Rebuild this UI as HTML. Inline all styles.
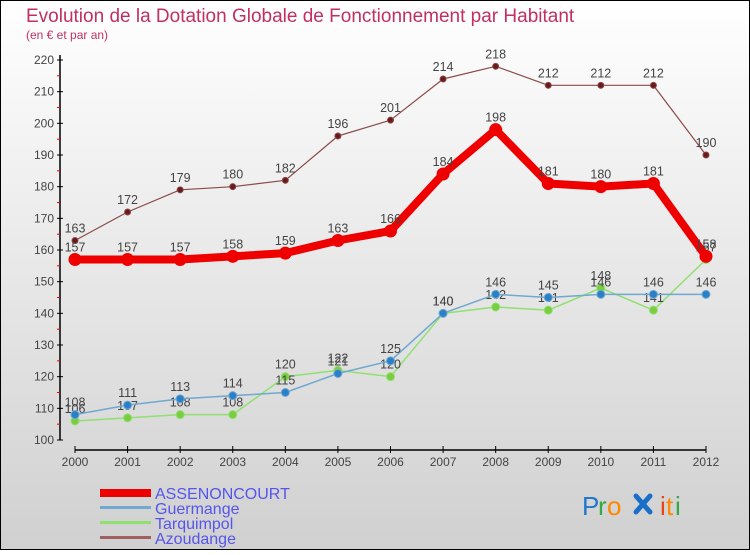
<!DOCTYPE html>
<html><head><meta charset="utf-8"><style>
html,body{margin:0;padding:0}
body{width:750px;height:550px;overflow:hidden;font-family:"Liberation Sans",sans-serif}
</style></head><body>
<svg id="chart" width="750" height="550" xmlns="http://www.w3.org/2000/svg" font-family="Liberation Sans, sans-serif">
<defs><linearGradient id="bg" x1="0" y1="0" x2="0" y2="1"><stop offset="0" stop-color="#ffffff"/><stop offset="1" stop-color="#d0d0d0"/></linearGradient></defs>
<rect x="0.5" y="0.5" width="749" height="549" fill="url(#bg)" stroke="#000"/>
<text x="26" y="22" font-size="19" fill="#c03060">Evolution de la Dotation Globale de Fonctionnement par Habitant</text>
<text x="26" y="39" font-size="12" fill="#c03060">(en € et par an)</text>
<g id="axes"></g>
<g id="series"></g>
<g id="legend">
<rect x="100" y="489" width="51" height="8" fill="#e00"/>
<text x="155" y="499" font-size="16" fill="#5555ee">ASSENONCOURT</text>
<rect x="100" y="506" width="51" height="3" fill="#6fa8d0"/>
<text x="155" y="514" font-size="16" fill="#5555ee">Guermange</text>
<rect x="100" y="521" width="51" height="3" fill="#90e070"/>
<text x="155" y="529" font-size="16" fill="#5555ee">Tarquimpol</text>
<rect x="100" y="536" width="51" height="3" fill="#a06060"/>
<text x="155" y="544" font-size="16" fill="#5555ee">Azoudange</text>
</g>
<g font-size="26">
<text x="582" y="515" fill="#2277cc">P</text><text x="598" y="515" fill="#33aa44">r</text><text x="607" y="515" fill="#ff8800">o</text>
<g stroke="#1a6fc8" stroke-width="5" stroke-linecap="round"><line x1="636" y1="496" x2="650" y2="512"/><line x1="650" y1="496" x2="636" y2="512"/></g>
<text x="660" y="515" fill="#ee4411">i</text><text x="666" y="515" fill="#ff8800">t</text><text x="675" y="515" fill="#33aa44">i</text>
</g>
</svg>
<script>
const years=["2000","2001","2002","2003","2004","2005","2006","2007","2008","2009","2010","2011","2012"];
const assenoncourt=[157,157,157,158,159,163,166,184,198,181,180,181,158];
const guermange=[108,111,113,114,115,121,125,140,146,145,146,146,146];
const tarquimpol=[106,107,108,108,120,122,120,140,142,141,148,141,157];
const azoudange=[163,172,179,180,182,196,201,214,218,212,212,212,190];
const yTicks=[100,110,120,130,140,150,160,170,180,190,200,210,220];
const NS="http://www.w3.org/2000/svg";
const xS=i=>75+i*(706-75)/(years.length-1);
const yS=v=>440-(v-100)*(380/120);
function mk(tag,attrs,parent){const e=document.createElementNS(NS,tag);for(const k in attrs)e.setAttribute(k,attrs[k]);parent.appendChild(e);return e;}
const axes=document.getElementById('axes');
const ya=mk('line',{x1:60,y1:55,x2:60,y2:440,stroke:'#000','stroke-width':1.5},axes);


const xa=mk('line',{x1:75,y1:450,x2:706,y2:450,stroke:'#000','stroke-width':1.5},axes);


yTicks.forEach((t,i)=>{
  const y=yS(t);
  mk('line',{x1:57,y1:y,x2:63,y2:y,stroke:'#000'},axes);
  if(i<yTicks.length-1){mk('line',{x1:57,y1:yS(t+5),x2:60,y2:yS(t+5),stroke:'#e00'},axes);}
  const tx=mk('text',{x:54,y:y+4,'font-size':12,'text-anchor':'end',fill:'#444'},axes);
  tx.textContent=t;
  
  
});
years.forEach((yr,i)=>{
  const x=xS(i);
  mk('line',{x1:x,y1:446,x2:x,y2:453,stroke:'#000'},axes);
  const tx=mk('text',{x:x,y:466,'font-size':12,'text-anchor':'middle',fill:'#444'},axes);
  tx.textContent=yr;
  
  
});
const sg=document.getElementById('series');
function series(name,vals,color,w,r,dot){
  const g=mk('g',{},sg);
  
  
  const pl=mk('polyline',{points:vals.map((v,i)=>xS(i)+','+yS(v)).join(' '),fill:'none',stroke:color,'stroke-width':w,'stroke-linejoin':'round'},g);
  
  
  vals.forEach((v,i)=>{
    const c=mk('circle',{cx:xS(i),cy:yS(v),r:r,fill:dot,stroke:color,'stroke-width':1},g);
    
    
    const t=mk('text',{x:xS(i),y:yS(v)-8,'font-size':12.5,'text-anchor':'middle',fill:'#444'},g);
    t.textContent=v;
    
    
  });
}
series('azoudange',azoudange,'#8a4a4a',1.2,3,'#6a1a1a');
series('tarquimpol',tarquimpol,'#90e070',1.5,4,'#7acc40');
series('guermange',guermange,'#6fa8d0',1.5,4,'#2a80c8');
series('assenoncourt',assenoncourt,'#ee0000',8,6,'#ee0000');
</script>
</body></html>
